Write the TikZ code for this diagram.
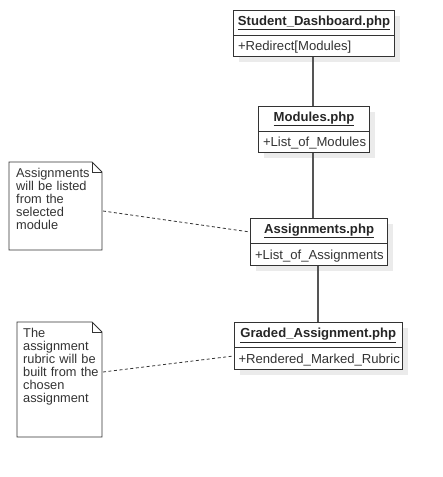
\documentclass[tikz,border=0pt]{standalone}
\usepackage{fontspec}
\setmainfont{Liberation Sans}
\usetikzlibrary{positioning,shapes.misc}
\definecolor{linecol}{HTML}{333333}
\definecolor{conncol}{HTML}{555555}
\definecolor{shadowcol}{HTML}{EBEBEB}
\tikzset{
  classtitle/.style={draw=linecol, line width=1.1pt, fill=white, inner sep=0pt, anchor=north west,
    font=\fontsize{13.1}{13.1}\selectfont\bfseries, text=black!85},
  classattr/.style={draw=linecol, line width=1.1pt, fill=white, inner sep=0pt, anchor=north west,
    font=\fontsize{13.1}{13.1}\selectfont, align=left, text depth=0pt, text=linecol},
  shadowbox/.style={fill=shadowcol, draw=none},
  conn/.style={draw=conncol, line width=1.3pt},
  notelink/.style={draw=linecol, line width=0.8pt, dash pattern=on 3pt off 2.5pt},
  notebox/.style={draw=linecol, line width=0.9pt, fill=white},
  notetext/.style={anchor=north west, inner sep=0pt, align=left, text width=90pt,
    font=\fontsize{12.8}{13}\selectfont, text=linecol}
}
\newcommand{\clsbox}[8]{% name, x, y, w, h1, h2, title, attr
  \fill[shadowbox] (#2+6,#3+6) rectangle (#2+#4+6,#3+#5+#6+6);
  \node[classtitle, minimum width=#4pt, minimum height=#5pt] (#1) at (#2,#3) {\underline{#7}};
  \node[classattr, minimum width=#4pt, minimum height=#6pt, text width=#4pt] (#1a) at (#2,#3+#5) {\hspace*{4.5pt}#8};
}
\begin{document}
\begin{tikzpicture}[x=1pt,y=-1pt]
\useasboundingbox (0,0) rectangle (443,477);
\fill[white] (0,0) rectangle (443,477);
% classes
\clsbox{sd}{233}{10}{161}{24.5}{21.5}{Student\_Dashboard.php}{+Redirect[Modules]}
\clsbox{mo}{258}{106}{111}{24.7}{21.6}{Modules.php}{+List\_of\_Modules}
\clsbox{as}{250}{218}{137}{25}{22}{Assignments.php}{+List\_of\_Assignments}
\clsbox{ga}{233.5}{322}{168.5}{25.3}{22}{Graded\_Assignment.php}{+Rendered\_Marked\_Rubric}
% connectors
\draw[conn] (sda.south -| 313,0) -- (mo.north -| 313,0);
\draw[conn] (moa.south -| 313,0) -- (as.north -| 313,0);
\draw[conn] (asa.south -| 318,0) -- (ga.north -| 318,0);
% notes
\draw[notebox] (9,162) -- (92,162) -- (102,172) -- (102,250) -- (9,250) -- cycle;
\draw[linecol, line width=0.9pt] (92,162) -- (92,172) -- (102,172);
\node[notetext] (n1) at (16,168.5) {Assignments\\will be listed\\from the\\selected\\module};
\coordinate (n1e) at (103,211);
\draw[notebox] (17,322) -- (92,322) -- (102,332) -- (102,437) -- (17,437) -- cycle;
\draw[linecol, line width=0.9pt] (92,322) -- (92,332) -- (102,332);
\node[notetext] (n2) at (23,328.5) {The\\assignment\\rubric will be\\built from the\\chosen\\assignment};
\coordinate (n2e) at (103,372);
\draw[notelink] (n1e) -- (as.west |- 0,232);
\draw[notelink] (n2e) -- (gaa.west |- 0,356);
\end{tikzpicture}
\end{document}
